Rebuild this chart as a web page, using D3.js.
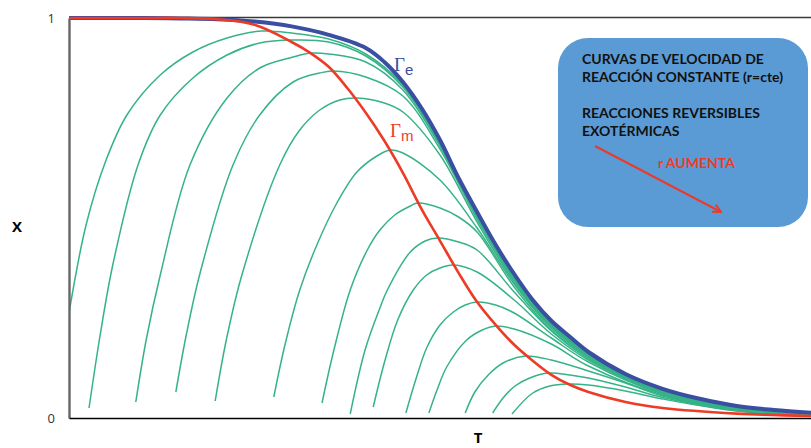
<!DOCTYPE html>
<html>
<head>
<meta charset="utf-8">
<script src="https://cdn.jsdelivr.net/npm/d3@7"></script>
<style>
  html, body { margin: 0; padding: 0; background: #fff; }
  svg { display: block; }
</style>
</head>
<body>
<svg id="chart" width="811" height="448"></svg>
<script>
// ---------- DATA (T in arbitrary units 0–100, X conversion 0–1) ----------
const yTickValues = [0, 1];
const xAxisLabel = "T";
const yAxisLabel = "X";

// Equilibrium curve Γe
const gammaE = [[0,1],[10,1],[15,0.999],[20,0.997],[25,0.991],[30,0.979],[35,0.958],[40,0.925],[42.5,0.89],[45,0.84],[47.5,0.775],[50,0.695],[52.5,0.60],[55,0.515],[57.5,0.433],[60,0.36],[62.5,0.295],[65,0.243],[67.5,0.203],[70,0.165],[75,0.11],[80,0.073],[85,0.048],[90,0.03],[95,0.02],[100,0.013]];

// Locus of maximum rates Γm
const gammaM = [[0,1],[10,1],[15,1],[20,0.997],[25,0.983],[30,0.94],[32.5,0.913],[35,0.878],[37.5,0.825],[40,0.763],[42.5,0.693],[45,0.613],[47.5,0.523],[50,0.443],[52.5,0.363],[55,0.29],[57.5,0.233],[60,0.183],[62.5,0.143],[65,0.108],[67.5,0.083],[70,0.065],[75,0.04],[80,0.025],[90,0.011],[100,0.005]];

// Constant-rate curves (r = cte), r increasing from first to last
const rateCurves = [
  [[0,0.2625],[2.3,0.4825],[4.9,0.64],[7.8,0.7575],[12.3,0.8575],[16.7,0.915],[21.3,0.95],[26.0,0.9675],[30,0.9625],[35,0.9475],[40,0.91],[45,0.8325],[50,0.6875],[55,0.5075],[60,0.355],[65,0.2388],[70,0.1625],[80,0.0713],[90,0.0275],[100,0.0113]],
  [[2.7,0.025],[4.2,0.2075],[5.9,0.3825],[9.3,0.6325],[12.3,0.7575],[16.7,0.85],[21.3,0.9075],[25.7,0.9375],[30.1,0.945],[35,0.94],[40,0.905],[45,0.8275],[50,0.685],[55,0.505],[60,0.351],[65,0.236],[70,0.161],[80,0.07],[90,0.026],[100,0.011]],
  [[9.0,0.04],[10.4,0.195],[12.3,0.3575],[16.3,0.6325],[21.3,0.80],[25.7,0.875],[30.2,0.9025],[32.7,0.9125],[35,0.91],[40,0.89],[45,0.82],[50,0.68],[55,0.5025],[60,0.3488],[65,0.2338],[70,0.16],[80,0.0693],[90,0.0255],[100,0.0105]],
  [[14.4,0.065],[15.8,0.2075],[17.7,0.365],[22.1,0.6325],[25.7,0.7575],[30.2,0.84],[33.8,0.8625],[35.6,0.8675],[40,0.8525],[45,0.805],[50,0.6725],[55,0.4975],[60,0.345],[65,0.2313],[70,0.1588],[80,0.0685],[90,0.025],[100,0.01]],
  [[19.7,0.0425],[21.2,0.195],[23.3,0.3575],[28.4,0.6325],[31.1,0.72],[33.8,0.77],[36.5,0.795],[38.8,0.80],[42.5,0.7875],[45,0.765],[50,0.6575],[55,0.49],[60,0.34],[65,0.2288],[70,0.1575],[80,0.0675],[90,0.0243],[100,0.01]],
  [[27.6,0.0525],[29.1,0.1825],[31.1,0.32],[33.4,0.4325],[36.1,0.5375],[38.8,0.615],[41.5,0.655],[43.3,0.67],[45,0.6625],[50,0.595],[55,0.475],[60,0.335],[65,0.225],[70,0.155],[80,0.0663],[90,0.0238],[100,0.0095]],
  [[34.1,0.0375],[35.7,0.17],[37.9,0.32],[40.2,0.42],[41.9,0.47],[43.9,0.5075],[46.0,0.53],[47.0,0.5375],[50,0.525],[52.5,0.5025],[55,0.465],[60,0.3275],[65,0.22],[70,0.1525],[80,0.065],[90,0.0225],[100,0.0093]],
  [[37.9,0.01],[39.9,0.17],[41.9,0.275],[42.9,0.32],[46.0,0.415],[48.0,0.4425],[49.7,0.45],[52.5,0.44],[55,0.42],[60,0.315],[65,0.2175],[70,0.1488],[80,0.0638],[90,0.0218],[100,0.009]],
  [[41.0,0.0275],[42.6,0.145],[44.3,0.245],[46.4,0.32],[48.2,0.3575],[50,0.375],[51.8,0.3825],[55,0.365],[60,0.295],[65,0.21],[70,0.145],[80,0.0625],[90,0.0213],[100,0.0088]],
  [[45.4,0.0125],[46.8,0.10],[48.2,0.175],[50,0.2325],[51.8,0.265],[53.4,0.2825],[55,0.29],[57.5,0.2825],[60,0.2625],[65,0.20],[70,0.14],[80,0.06],[90,0.0205],[100,0.0085]],
  [[48.5,0.0125],[49.6,0.07],[50.9,0.1275],[53.6,0.195],[55.7,0.22],[57.5,0.23],[60,0.2225],[65,0.185],[70,0.13],[80,0.0575],[90,0.02],[100,0.0083]],
  [[53.4,0.0125],[54.7,0.065],[56.5,0.1075],[58.5,0.1375],[61.5,0.155],[65,0.145],[70,0.1175],[75,0.0875],[80,0.055],[90,0.0193],[100,0.008]],
  [[57.1,0.0125],[58.5,0.05],[60.1,0.08],[62.1,0.10],[64.6,0.1125],[67.5,0.1075],[70,0.10],[75,0.0775],[80,0.0513],[90,0.0185],[100,0.0078]],
  [[59.7,0.01],[62.5,0.0625],[64.8,0.08],[67.3,0.085],[70,0.0825],[75,0.0675],[80,0.0475],[90,0.0175],[100,0.0075]]
];

const boxLines1 = ["CURVAS DE VELOCIDAD DE", "REACCIÓN CONSTANTE (r=cte)"];
const boxLines2 = ["REACCIONES REVERSIBLES", "EXOTÉRMICAS"];
const arrowLabel = "r AUMENTA";

// ---------- DRAW ----------
(function () {
const svg = d3.select("#chart");
const pLeft = 69, pRight = 811, pTop = 18, pBottom = 418;
const x = d3.scaleLinear().domain([0, 100]).range([pLeft, pRight]);
const y = d3.scaleLinear().domain([0, 1]).range([pBottom, pTop]);

const GREEN = "#35b387", RED = "#ee3b26", BLUE = "#3a4ea2";

const defs = svg.append("defs");
defs.append("clipPath").attr("id", "plotClip")
  .append("rect").attr("x", pLeft).attr("y", pTop - 4).attr("width", pRight - pLeft).attr("height", pBottom - pTop + 4);

// top border
svg.append("line").attr("x1", x(0)).attr("x2", x(100)).attr("y1", y(1) - 0.5).attr("y2", y(1) - 0.5)
  .attr("stroke", "#3a3a3a").attr("stroke-width", 1.3);

const line = d3.line().x(d => x(d[0])).y(d => y(d[1])).curve(d3.curveCatmullRom.alpha(0.5));
const g = svg.append("g").attr("clip-path", "url(#plotClip)");

g.selectAll("path.rate").data(rateCurves).join("path").attr("class", "rate")
  .attr("d", line).attr("fill", "none").attr("stroke", GREEN).attr("stroke-width", 1.5);

g.append("path").datum(gammaE).attr("d", line).attr("fill", "none")
  .attr("stroke", BLUE).attr("stroke-width", 4);
g.append("path").datum(gammaM).attr("d", line).attr("fill", "none")
  .attr("stroke", RED).attr("stroke-width", 2.6);

// axes
const yAxis = d3.axisLeft(y).tickValues(yTickValues).tickSize(0).tickPadding(14).tickFormat(d3.format("d"));
const ya = svg.append("g").attr("transform", `translate(${pLeft},0)`).call(yAxis);
ya.select(".domain").attr("stroke", "#666").attr("stroke-width", 2.4);
ya.selectAll("text").attr("font-family", "Open Sans, sans-serif").attr("font-size", 13).attr("fill", "#333");

const xAxis = d3.axisBottom(x).tickValues([]).tickSize(0);
const xa = svg.append("g").attr("transform", `translate(0,${pBottom})`).call(xAxis);
xa.select(".domain").attr("stroke", "#000").attr("stroke-width", 1.6);

svg.append("text").attr("x", 17).attr("y", 232).attr("text-anchor", "middle")
  .attr("font-family", "Open Sans, sans-serif").attr("font-weight", "bold").attr("font-size", 15)
  .text(yAxisLabel);
svg.append("text").attr("x", 478).attr("y", 443).attr("text-anchor", "middle")
  .attr("font-family", "Open Sans, sans-serif").attr("font-weight", "bold").attr("font-size", 15)
  .text(xAxisLabel);

// curve labels
function gammaLabel(px, py, sub, color) {
  const t = svg.append("text").attr("x", px).attr("y", py).attr("fill", color);
  t.append("tspan").attr("font-family", "Liberation Serif, serif").attr("font-size", 19).text("Γ");
  t.append("tspan").attr("font-family", "Liberation Sans, sans-serif").attr("font-size", 15).attr("dy", 4).text(sub);
}
gammaLabel(394, 71, "e", BLUE);
gammaLabel(390, 137, "m", RED);

// annotation box
svg.append("rect").attr("x", 558).attr("y", 38).attr("width", 250).attr("height", 189)
  .attr("rx", 30).attr("ry", 30).attr("fill", "#5b9bd5");
const boxFont = "Lato, Open Sans, sans-serif";
boxLines1.forEach((s, i) => svg.append("text").attr("x", 582).attr("y", 64 + i * 18)
  .attr("font-family", boxFont).attr("font-weight", "bold").attr("font-size", 14).attr("fill", "#111").text(s));
boxLines2.forEach((s, i) => svg.append("text").attr("x", 582).attr("y", 118 + i * 18)
  .attr("font-family", boxFont).attr("font-weight", "bold").attr("font-size", 14).attr("fill", "#111").text(s));

defs.append("marker").attr("id", "arrowHead").attr("viewBox", "0 0 10 10")
  .attr("refX", 9).attr("refY", 5).attr("markerWidth", 5).attr("markerHeight", 5).attr("orient", "auto")
  .append("path").attr("d", "M1,1 L9,5 L1,9").attr("fill", "none").attr("stroke", "#ea3a2a").attr("stroke-width", 2);
svg.append("line").attr("x1", 595).attr("y1", 146).attr("x2", 721).attr("y2", 212)
  .attr("stroke", "#ea3a2a").attr("stroke-width", 2).attr("marker-end", "url(#arrowHead)");
svg.append("text").attr("x", 658).attr("y", 168).attr("font-family", boxFont).attr("font-weight", "bold")
  .attr("font-size", 14).attr("fill", "#ee3b26").text(arrowLabel);
})();
</script>
</body>
</html>
